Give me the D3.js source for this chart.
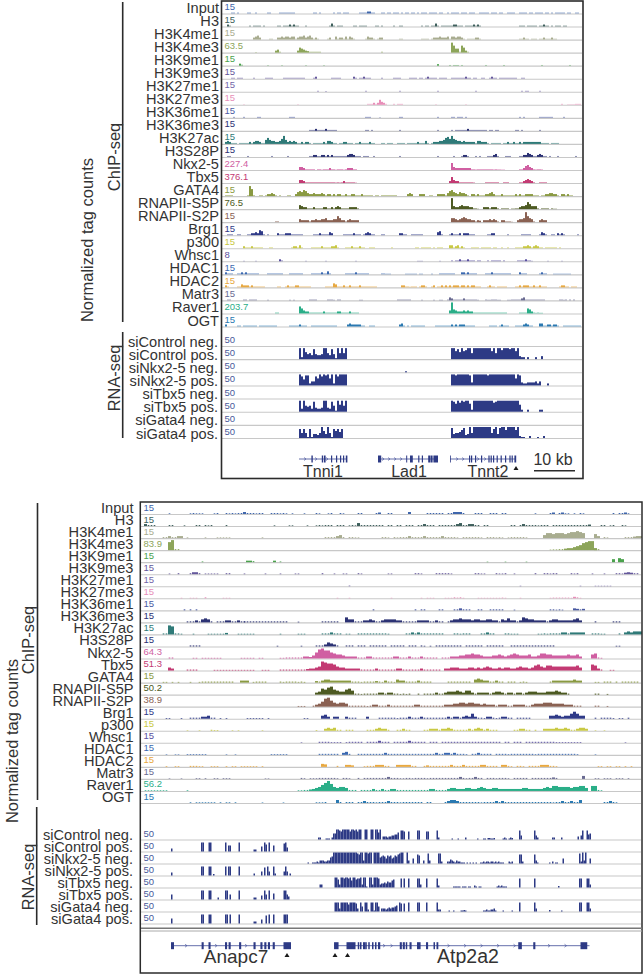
<!DOCTYPE html>
<html><head><meta charset="utf-8">
<script src="https://cdn.jsdelivr.net/npm/d3@7"></script>
<style>html,body{margin:0;padding:0;background:#fff}svg{display:block}text{font-family:"Liberation Sans",Arial,sans-serif}</style>
</head><body><svg id="c" width="643" height="975"></svg>
<script>
// ---------- categories ----------
const chipNames = ["Input","H3","H3K4me1","H3K4me3","H3K9me1","H3K9me3","H3K27me1","H3K27me3","H3K36me1","H3K36me3","H3K27ac","H3S28P","Nkx2-5","Tbx5","GATA4","RNAPII-S5P","RNAPII-S2P","Brg1","p300","Whsc1","HDAC1","HDAC2","Matr3","Raver1","OGT"];
const rnaNames = ["siControl neg.","siControl pos.","siNkx2-5 neg.","siNkx2-5 pos.","siTbx5 neg.","siTbx5 pos.","siGata4 neg.","siGata4 pos."];
const chipColors = ["#3f66ac","#3e5f5c","#a9ad90","#8da55a","#4aa24c","#65589c","#7466a8","#e88fb9","#4a5aa2","#2c3274","#2f7a78","#2c3274","#d05fa2","#c33a73","#8a9a42","#4d5a22","#8a6152","#2f3a88","#c9c944","#5a50a0","#3b69b1","#e8a942","#6a6b92","#2aae88","#2a79b1"];
const rnaColor = "#2d3a85";
const topScaleLabels = ["15","15","15","63.5","15","15","15","15","15","15","15","15","227.4","376.1","15","76.5","15","15","15","8","15","15","15","203.7","15"];
const botScaleLabels = ["15","15","15","83.9","15","15","15","15","15","15","15","15","64.3","51.3","15","50.2","38.9","15","15","15","15","15","15","56.2","15"];
const rnaScaleLabel = "50";

// ---------- top locus: ChIP signal, runs of [first bin, height, height, ...] ----------
const tInput=[[18,1,1,0,1],[26,1,1,0,0,1],[36,1,1],[42,1,1,1,1,1,1,1,1],[59,1,1,0,1],[69,1,0,1,1,0,1,1,1],[82,1,1,1,1,2,2,1,1],[93,1,1,0,1,1,0,1,1,1,0,1,0,1,1,0,1,1,0,1,0,1,1,1,0,1,1,1,1,0,1,1,0,0,1,0,1,1,1,1,0,1,1,1,0,1,1,1,0,0,1,1,1,1,1,0,1,1,1,0,1,1,0,0,1,1,1,1,0,0,1,1,1,1,0,1,1,0,1,1,1,1,0,1,1,0,1,0,1,1,1,1,1,0,1,1,0,0,1,1]];
const tH3=[[16,2,1],[27,1,0,1,1,1,1,0,1],[41,1,1,0,1,1,1,2,1,2,1,1],[55,1],[67,1,3,1,0,1,1,1],[79,1,1,0,1,1,1,1],[90,1,1,0,1],[99,1],[102,1,1],[113,1,0,1,1,0,1,1,3,1,0,1,1,1,1,1,1,2,2,1,1,1,0,1,1,1,1,2,1,2,1],[162,1,1,1,0,1,1,1,1,1,0,1,1,2,1,1,0,1,0,1,1,1,0,1,1]];
const tK4me1=[[29,2,3,4,2],[37,1,1],[41,2,2,3,2,3,3,2,3,3,1,2,3,3,4,2,3,4,2,1,2,1],[66,1,2],[70,3,1,2,2,1,3,1,3,2,1],[85,1,3,2,2,1,0,1,2,2],[102,1,1],[113,1,1,1,1,0,1,2,2,2,3,2,2,2,3,1,3,3,2,3,3,2,1,0,1,1,1,1,2,2,1],[162,1,1,2,1,1,0,1,1,1,0,1,1,2,1,1,1,2,1,1]];
const tK4me3=[[30,.5],[40,2,3,1],[51,2,5,4,3,2,1.5,1,1,1,1,1,1],[93,1],[128,10,7,4,4],[132,1,7,5,2,1]];
const tK9me1=[[22,2,1],[36,.5],[43,.5],[55,.5],[64,.5],[121,1.5],[127,.7,0,.7,.7,.7,0,.7],[145,.7],[154,.7],[173,.7],[187,.7]];
const tK9me3=[[18,1,1,0,1,1,1],[29,1],[35,1,1,1,1],[44,1,1,1,1,1,1,1,1,1,1,1],[59,1,2],[68,1,1,1,1,1],[79,2,1,0,1,1,2,1,1,1],[93,1],[99,1,1,1,1],[107,1,1,1,1,0,1,1,0,1,2,1,1,1,1,0,1,1,1,1,0,0,1,1,1,1,1,1,1,2,1,1,0,1,1,0,0,1,1,0,0,1,2,1,1,0,1,1,1,1,1,1,1,1,1,0,0,1,1]];
const tK27me1=[[61,1],[65,.7],[85,1],[102,1],[121,1],[140,1],[163,1,0,1,1],[172,1]];
const tK27me3=[[24,.5],[51,.5],[86,1,1,1,2,1,2,5,3],[94,2,1],[99,1,0,1,1,1],[120,.5],[135,.5],[183,1],[186,.5,.5,.5,.5,1,1,1]];
const tK36me1=[[19,1],[24,1],[31,1,1],[47,1,1,1],[85,1,1,1],[92,.5],[102,1,1],[121,1],[128,1,1,0,1,1,1,0,1],[162,1,0,1],[172,1,1,1,1,1,1,1],[184,1]];
const tK36me3=[[57,1,1,1,2,1,1,1,1,2,1,1,1,1,1],[85,1,1,0,1],[102,1],[121,1],[128,1,0,1,1,1,1,1,1,2,1,1,1,1,1,1,1,1,1,0,1,1,0,1,1],[160,1,1,0,1],[172,1]];
const tK27ac=[[15,2,3,2,1,1,1,0,1,1,1,1,1,2,1,2,3,3,2,1,1,4,6,4,3,3,2,2,3,5,8,4,2,3,2,3,2,1,1,2,1,2,2,1,0,1,1,1,1,1,2,1,3,3,2,1,1,0,1,1,2,2,1,1,1,0,1,1,2,1,1,1,1,2,1,1],[93,1,1,0,1,1,1,0,0,1,1,1,1,0,1,1,1,1,1,2,1,1,1,3,1,0,1,2,2,2,3,3,4,6,7,5,8,5,4,3,3,2,3,2,2,2,2,2,1,3,3,2,2,2,1,0,1,1,1,1,1,0,1,1,2,1,1,2,1,1,2,1,2,2,2,2,2,2,2,2,2,1,1,1,1,0,1,1,1,1]];
const tS28P=[[16,1,1],[26,1],[38,1],[46,1],[57,1,1,2,2,1,1,2,2,1,2,1,2,1,1,1,1,1,1,1,2,3,3,2,1,1,1,0,1,1,1,0,0,1],[102,1],[121,1],[129,1],[133,1,2,2,1],[140,1,0,1],[146,1,1,1,2,3,1],[155,1,1,1],[162,1,1,2,2,4,3,2,1,1,2,3,2,1,1,0,1],[181,1],[190,1]];
const tNkx=[[52,3,3,2,1,1,1,1,1,0,1,1,.5,1,1,1,2,1,1,.5,1,1,1,.5,1,2,2,2,1,1],[128,7,3,2,2,2,2,2,2,2,2,1,1],[140,.7,1,1,1,1,1,1,1,1,.7,1,.7,.7,.5,.5],[162,1,1,2,4,5,3,2,1,.7,1,1,.7]];
const tTbx=[[52,3,3,2,1,1,1,1,1,1,1,1,1,1,1,1,1,1,1,.7,1,.7,1,2,1,1,1,1,1,.5],[127,2,6,3,2,2,1,1,1,1,1,1,1,.7],[145,1,1,1,1,1,1,1],[154,1,1,1],[162,1,1,2,3,4,3,2,1],[172,1,1,1,1]];
const tGATA=[[15,1,1,1,1],[26,1,10,7,1],[32,1,1],[35,1,2,2,3,2,1],[42,1],[46,1,1],[50,2,4,5,4,6,5,3,2,2,3,2,2,2,3,2,1,2,2,1,2,1,2,2,1,1,2,1,1,2,2,1,1,1,2,1,1,1,1,1,0,1,1],[93,1,1,1,1,1,1,1,1,0,0,0,0,0,2,3,2],[112,2,2,2],[117,1,1],[121,2,2,2,2,1,3,5,6,4,3,2,4,3,3,2,1,0,2,2,1,2,1,1,1,2,2,3,4,2,1,1,1,2,1,1,1,1,1,1,2,1,2,1,1,2,2,2,2,1,1,1,0,1,1,2,2,3,3,2,2,1,0,2,2,1,2,1,1]];
const tS5P=[[52,4,3,2,2,1,1,1,2,1,1,1,1,2,2,1,1,2,1,2,3,2,1,1,1,1,2,2,2,2,1],[128,11,3,2,2,3,4,3,3,3,2,2,1,1,.5],[144,2,2,2,1,2,2,2,1],[153,1,1,1,1],[158,.7,.7,1,1,2,3,3,4,7,5,3,3,3,1],[173,1,1,1,1,0,1,.5,.5]];
const tS2P=[[40,1,1],[52,3,2,2,2,2,1,2,2,3,2,2,3,3,4,2,2,2,3,3,6,4,2,2,1,2,3,2,2,2,2],[128,4,4,3,2,3,4,5,4,3,3,2,2,1,2,1.5],[144,2,2,2,3,2,3,2,1],[153,2,2,1,1,1,.5],[161,2,3,3,4,10,6,4,3,1],[172,2,3,2,2]];
const tBrg=[[16,1,1,1],[21,1,1],[26,1,1,2,2,3,2,5,4,1],[36,1],[41,2,1,1,1,2,2,2,1,1,1,1,1,1],[59,1,1,1,2,1,1,1,1,3,2],[74,1,1,1,1,1,2,1,1,1,0,1,2,3,2,1,1],[93,1,1],[102,2,2,1,1],[108,1,1,1,1,1,1],[121,3,4,1],[127,1,2,1,1,1,2],[134,2,2,2,1,1,1],[146,1,1,2,2],[156,1],[163,1,1,1,1,1],[172,1,3,2,1],[178,1,1,0,2,1,2,1],[191,1]];
const tP300=[[24,2,1,1,1,2,1,1,1,1,1],[37,1,1],[48,1,2,2,1,3,1],[58,1,1,1,1,1,2,1,1,1,1,2,2,3,1],[75,1,1,1,2,1,1,1,2,1,1,0,0,1,1,1],[98,1],[110,1,1,0,1,1,1,1,1,0,1,0,1,1,1],[127,3,3,1,2,3,1,2,1],[138,1,1,1,1,0,1,1,1,1,1,0,1,1],[153,1,0,0,1],[160,1,1,1,1,2,2,3,2,1,2,3,2,1,1,0,1,1,1,1,1,1,0,1]];
const tWhsc=[[24,.5],[30,.5],[42,2,1],[55,.5],[65,.5],[80,.5],[111,.5,.5,.5],[122,.5],[128,1,0,1,1,2,1,1,1,2,1,1,1,0,1,1],[146,1,0,1,1,1,1,1,0,1],[161,1,1,1,1,2,1,1,.5],[176,.5],[183,.5]];
const tHDAC1=[[15,2,1,1,1],[21,1,1,2,1,2,1,1,1,1,1,1],[36,1,1,1,1,1,1,1,1],[47,1,1,1,1,1,1,1],[58,1,1,1,1,1,2,1,1,3,1],[75,1,1,1,1,1,2,1,1,1,1,1,1],[93,1,1,.7,.7,.7],[105,.7,.7,.7,.7,.7,.7,0,.7,.7],[118,.7],[122,1,1,1,1,1,1,1,1],[133,2,2,1,2,1,1,1,1],[145,1,1,1,2,1,1,1,1,1,1,1,1,1],[162,2,1,1,1],[172,1,2,1,1],[179,.7,.7,.7,.7,.7,.7,.7,.7,.7]];
const tHDAC2=[[15,2,1],[21,1,1,3,2,2,2,1,2,1,1,1,1,1,1],[41,1,1],[45,1,2,1,1,1,2,2,1,1,1,1,1,1],[65,1,1,1,1,4,3,1,1,1,2,1,1,2,1,1,1,1,2,1,1,1,1,1,1,1,1],[103,2,2,1,1,.7,1,1,1],[112,1,2,2,1],[118,1,2],[121,1,1,2,1,2,1,2,1,2,2,2,1,2,2,1,2,1,2,2,1,1,1],[146,1,2,1,1],[151,1,1,1,1,1],[160,1,1,2,1,2,2,2,1,1,2,1,1,2,1,1,1],[182,1,2,2,1,1,0,1,1,1]];
const tMatr=[[16,1,1],[24,1,1,0,1,1,1,1],[36,.7],[47,.7,0,.7],[57,1,1,1,1],[66,1,1,1,.7,0,1,1],[82,.7,.7],[101,1,1,1,1,1,1,1],[113,.7],[119,.7],[122,.7,.7],[126,1,3,2,1,1,1,1],[133,1,2,1,1,1,1,1,1,.7],[145,1,.7,.7,1,1,1,.7,.7],[156,.7,.7,1,1,1,1,1,2,3,1,1,1,1,1,1,1,1,1,1],[182,1,1,.7,1,0,1,0,1]];
const tRaver=[[40,1,1],[52,7,5,3,2,2,1,1,1,1,1,1,1,2,1,1,1,1,1,1,2,2,1,1,1,1,2,1,1,1,1],[127,3,11,4,3,2,2,2,3,2,3,2,2,1,1,1,1,1,1,1,1,1,1,1,1,1,1],[153,1,1,1],[162,1,1,1,1,5,4,2,1,.7,1,.7,.7]];
const tOGT=[[15,2],[21,1,1,0,1,1,1,1,1,1,1,0,1,1,1,1,1,1,1,1,1],[47,1,1,1,1,1,2,1,1,1],[58,1,1,1,1,1,1,1,1,1,1,1,1,1],[76,2,3,2,2,2,2,2,1,1],[87,1,1,1],[102,2,3,1],[106,1,0,1,1,1,1,1,1,1],[120,1,1,1,1,1,1,1,1,2,1,2,1,2,2,2,1,1,1,1,1],[147,1,1,1,1,0,1,2,1,1,1],[160,1,1,1,1,2,3,2,1,1],[172,3,3,1,1,2,2,1,2,2,1],[184,1,1,1,1,1,1,1,1,1]];
const topChip=[tInput,tH3,tK4me1,tK4me3,tK9me1,tK9me3,tK27me1,tK27me3,tK36me1,tK36me3,tK27ac,tS28P,tNkx,tTbx,tGATA,tS5P,tS2P,tBrg,tP300,tWhsc,tHDAC1,tHDAC2,tMatr,tRaver,tOGT];

// ---------- top locus: RNA signal ----------
const trCtrlPos=[[52,11,2,11,7,5,6,4,10,5,4,4,5,11,11,6,4,10,5,1,11,6,11,6,11],[128,11,11,8,10,7,11,8,9,11,11,6],[139,11,11,11,11,11,11,11,11,11,8,11,6,11,11,9,11,11,11,10,11,11,8,11],[162,3,2,2],[166,2],[170,2],[173,3]];
const trNkxNeg=[[105,1]];
const trNkxPos=[[52,11,9,6,10,10,2,4,4,9,7,11,9,11,10,11,7,11,2,11,9,11,11,11,11],[128,11,11,10,11,11,11,11,11,11,10,3],[139,11,11,11,11,11,11,11,10,11,11,11,11,11,11,11,11,11,11,11,11,11,7,11,10],[163,3,2,2,3,3,3,3,4,2,4],[176,2]];
const trTbxPos=[[52,11,3,11,6,5,6,3,10,4,3,3,4,11,11,4,3,10,6,1,11,7,11,6,11],[128,11,10,8,11,9,11,10,11,11,8,2],[139,11,11,11,11,11,11,11,11,11,11,9,10,11,11,11,11,11,11,11,11,11,11,11,7],[163,2],[166,2],[172,2,2]];
const trGataPos=[[52,9,5,9,5,1,9,1,4,4,3,5,11,7,4,11,5,1,9,7,9,6,9],[128,10,4,5,5,6,8,10,3,4,11,5],[139,11,11,11,11,11,11,11,11,11,5,9,11,4,10,11,11,8,11,11,11,11,8,11],[162,2,1,1],[167,2],[171,1],[174,2]];
const topRna=[[],trCtrlPos,trNkxNeg,trNkxPos,[],trTbxPos,[],trGataPos];

// ---------- bottom locus: ChIP signal ----------
const bInput=[[9,.7],[16,.7,1,.7,.7,.7],[24,.7,1],[28,1,.7,1,.7,1,1,2,1,1,1,.7,1,1],[43,1,1,1,.7,1,.7],[50,.7],[54,.7],[58,1,.7],[62,.7,1],[66,1,.7],[72,1,1],[78,1,1.5],[82,1,1],[89,2],[95,1,1,1,1,1,1,0,1,1,2,2,2,1],[111,1,1,1],[116,1,1,1,0,1,1],[131,.7],[136,1,1.5,0,1,1.5,.7,.7],[144,.7,0,1,.7],[157,1,0,1,1,1.5,.7]];
const bH3=[[1,2,1,1,1],[9,1,1],[14,.7],[18,1,1,0,1,.7,1],[28,1],[44,.7],[49,.7,.7],[55,.7,0,0,.7],[59,1,.7,1,1,1,0,1,1,1],[69,.7,1,.7],[72,3,1,1,1,1,1,1,1],[80,1,0,1,1,0,1,1,0,1,1,1,0,1,1,2,1,1,1,0,1,1,1,1,1,1,2,3,1,1,2,2,1,1,0,1,1],[123,1,1,0,1,2,1,1,1,1],[132,.7,1,1,1,0,1,1,1,1,1,1,1,1,1,1,1,1,1.5],[153,1,1,0,.7,1],[160,1,.7]];
const bK4me1=[[7,1,1,2,1],[11,1,2,2],[15,.7],[21,.7],[25,.7,.7,.7,.7,.7],[40,.7],[61,1,1,1,1,2,3,1],[69,1,1,.7,.7],[80,1,1,.7,0,1,.7,1,1,1,2,1,1,1,1,2,1,1,1,1,1,2,1,1,1,1,.7,0,1,1,1,1,1,1,.7,0,1,1,1,.7,1,.7,0,.7,1,1,1,1,1,.7],[134,3,5,5,4,5,5,5,4,5,6,6,7,6,5],[151,4,2],[154,1,.7],[161,1,1,1,1.5,2,2]];
const bK4me3=[[9,8,10],[11,1,1],[136,.5,.7,.7,1,1,1.5,2,2,3,4,5,7,8,9,9,2],[151,1.5,1]];
const bK9me1=[[20,.7],[35,1.5,1.5,1],[44,1.5,0,.7],[115,.5],[121,.5],[128,.5],[157,3],[159,4,3]];
const bK9me3=[[9,.7],[12,1],[16,1,2,2,1],[21,.7,.7,.7,.7,.7],[28,1,1],[34,.7],[41,.7],[46,.7],[51,.7,.7],[60,1],[64,.7],[67,.7,.7],[72,1,.7],[82,.7,.7],[91,1,1,.7],[98,1,1,1,1,1,.7],[111,1,1,.7,.7],[118,1,.7,.7,1],[124,.7],[131,1],[134,1,1,.7,1,1],[143,1,.7,1],[150,.7],[154,.7],[158,1,1,.7,1.5,2,1.5,1,1]];
const bK27me1=[[69,.7],[126,.5],[146,.5],[151,.5,.5,.5,.5,.5,.5]];
const bK27me3=[[13,.5],[16,.5,.5,.5],[21,1],[27,.5,.5,.5],[65,.5],[69,.5],[83,.5],[93,.5,0,.5,.5,.5],[101,.5,.5,.5,1,.7,1,.5],[112,.5,.5,.5,.5,.5,.5,.5,.5,.7,.5],[126,.5],[136,.5,.7,.7,.7,.7,.7,.7,.5,1.5,1,.5]];
const bK36me1=[[14,1],[16,1],[18,1],[77,1],[91,1,0,1,1],[99,1,1],[104,1,1,2,1,1,1],[112,1,1],[116,1,1,1,1,1],[124,.7],[136,1,1,.7,1,.7],[144,2,1.5,1,1.5]];
const bK36me3=[[15,1,1,1,2,1,3,4,3,1],[25,1,1,1,2,2,1,1,2,1,1],[34,1,1,1,1,1,1,1,1,1,1,1,1,1,1,1],[52,.7],[60,1,1,1,1,1,1],[68,5,3,3,1],[72,1,1,2,2,3,2,1,1],[80,2,3,3,3,3,2,2,1,1,1,1,1,2,2,2,2,1,1,2,1,1,0,1,2,3,3,4,3,3,3,2,3,3,2,2,3,3,2,2,1,3,2,4,2,2,1,2,5,4,3,3,2,2,2,2,1,2,3,3,2,2,2,2,2,3,4,2],[151,1],[157,1,1,1]];
const bK27ac=[[7,1,1,9,8,1],[12,1,.7],[17,.7],[22,.7,.7,.7,.7,.7,.7,1.5],[32,.7,.7,.7,.7,.7,.7],[46,.7],[52,.7,.7,.7],[60,1,1,1,2,1,1,1],[68,.7,.7],[72,1,1,1,1,1,1,1,1],[80,1,1,.7],[88,1,1,2,1,2,1,1,1,1,1,1,1,1],[104,1,1,.7,1,1,1],[113,1,1,2,1,1],[121,1,1,.7,.7,.7],[132,.7,.7,1,.7],[136,1,1,1,1,2,2,1,2,2,2,2,2],[150,1,1,1,.7,.7],[159,1],[161,2,3,2,3,3,3]];
const bS28P=[[16,1,1,1,1],[45,.7],[53,.7],[58,1,1,1,2,4,3,2,1],[68,1,1,1],[72,1,1,1,0,1,1,1,1],[80,1,1,0,1,1,1,1,1,0,1,1,1,0,1,.7,0,.7,0,1,1,1,1,1,1,1,1,1,0,1,1,1,1,1,1,0,1,1,1,1,1,1,0,0,1,1,1,1,1,1,1,1,1,1,1,1,1,1,1],[158,.7,.7]];
const bNkx=[[9,1,1],[17,.7,.7,0,.7,.7,.7,.7,.7,.7,.7],[33,.7,.7,.7,.7,.7,0,.7,.7],[46,.7,.7,1,1,1,1,1,1,2,2,1.5,3,6,9,10,8,8,6,5,4,4,3,2,2,2,2,1,1,1,2,2,1,1,1,1,1,1,1,2,2,1,1,1,2,1,1,1,2,1,1,1,1,1],[100,1,1,1,2,2,2,3,3,4,4,5,4,4,3,2,2,2,3,3,4,3,2,3,4,5,4,3,3,3,4,2,2,3,5,5,4,4,3,3,3,3,3,4,3,3,4,2],[150,4,5,1],[153,.7]];
const bTbx=[[9,3,2],[15,1,1,1,1],[24,.7,.7,.7,.7,.7,.7,.7,.7,.7,.7,.7,.7,.7,.7],[40,.7,.7,.7],[46,1,1,1,1,1,1,1,1,1,1.5,2,2,3,4,9,8,7,7,6,4,3,3,2,2,2,2,2,1,1,1,1,1,2,1,1,1,1,1,1,2,2,1,1,1,1,1,1,2,1,1,1,1,1,1],[101,2,2,3,3,3,2,2,2,3,3,2,3,2,3,4,3,2,2,3,2,3,3,2,2,3,4,3,3,2,3,5,6,4,3,5,5,4,4,4,4,4,4,4,4,5,3],[150,6,5,2],[153,1],[156,.7,.7]];
const bGATA=[[7,.7,.7,0,.7],[12,.7],[16,.7],[19,.7,1,1,1,1,1,1,1,1,1,1,1],[33,2,2,2],[37,.7,1,1,1,1],[46,1,.7,1,1,1,1,.7,1,.7],[58,1.5,1,2,3,3,2,2,2,2,2,2,2,1,1,1,.7,1,1,1,1,1.5,1,.7],[81,2,1,1,.7,3,2,2,1,1,1,1,2,1,1,1,1],[102,1,1,1,1,1,1,1,1,0,3,4,3,2,2,1,1,2,1,1,0,1,1,1,0,.7,1,.7],[136,1,2,2,2,2,2,2,2,3,2,2],[151,.7,.7,0,1,1,1,0,1,0,1,1,1,1,1,1]];
const bS5P=[[58,2,3,6,5,7,8,5,4,3,3,5,6,4,1],[72,1,.7,1,1,1,1,1,2,2,1,2,2,1,1,.7,1,.7,1],[92,1,0,1,1,1,1,2,1,1,2,3,3,3,4,3,2,4,4,2,1,2,2,2,2,1,2,3,3,2,1,2,2,1,2,2,1,2,3,3,3,2,2,2,3,3,3,4,3,2,2,1],[151,1,1],[155,.7]];
const bS2P=[[52,.7,.7,.7],[57,1,2,3,5,8,9,6,4,3,4,4,3,1,1,1],[72,1,1,1,.7,1,2,2,1,1,1,2,1,1,1,1,1,1,1,1,2,2,1,1,1,1,1,1,1,1,2],[102,2,2,3,3,4,4,3,4,4,3,3,2,3,2,2,2,1,2,2,2,1,1,2,2,2,2,1,1,2,3,3,3,4,4,4,3,3,3,3,2,2,2,1,1,1],[151,1,1],[155,.7]];
const bBrg=[[8,.7,.7],[13,.7],[16,1,1,1,1,2,2,3,1,1,0,.7,0,.7],[35,.7,.7,.7,.7,.7,.7,0,.7],[54,.7,.7],[60,3,4,2],[64,2,2],[68,2,1,1,1],[75,2],[79,1,1,1,1,1,1,.7,1,1,1,2,1,1,1,2,1,1,1,1,1,1,1,1,2,1,2,2,1,2,3,2,5,2,1,1,.7,2,2,1,.7,1,2,2,1,1,0,1,1,1,1,1],[136,3,3,4,3,2,3,3,5,7,5,3,3],[151,1,0,1,1,1,1,.7,0,.7,.7,0,1]];
const bP300=[[15,.5],[19,.5],[23,1,.7,.7],[30,.5,0,.5],[40,.5],[58,.7],[61,2,3,2,3,1,1],[68,1,1,1],[75,1,1,1,2,3,2,2,1],[85,1,1,2,1,1],[94,1,1,2,2,2,1,2,2,3,2,1,1,1,1,1,2,1,2,3,2,1,2,1,1,1],[124,1,1,2,2,1,1],[131,1],[134,2,2,2,2,3,2,2,3,2,1,1,2,3,3,2],[151,.5],[154,.5]];
const bWhsc=[[53,.5],[59,1,1,1,1,.7,.7,.7,.7,0,.7,1,1,1,1,1,0,1,1,1,1,2,1,1,1,0,1,1,1,1,1,2,1,1,1,1,1,0,1,1,1,0,1,1,1,1,1,1,1,1,1,1,1,1,1,1,1,1,1,1,1,1,0,1,1,0,1,1,1,0,1,1,1,1,1,1,1,1,1,1,.7,.7,.7,.7,.7,.7,.7,.7,.7],[161,.5]];
const bHDAC1=[[8,.5],[11,.5,.5],[15,.7,.7,.7,.7,.7,.7,.7],[28,.5],[31,.5],[43,.7,.7,.7,.7,.7,.7],[59,1,1,1,1,1,1,1,0,2,3,1],[72,1,1,1,1,1,1,1,1,1,2,1,1,1,1,1,1,1,1,1,1,1,1,1,1,1,1,2,1,1,2,2,1,2,1,1,1,.7,0,1,1,2,1,1,1,1,0,1,1,1,1,.7,1,1,1,1,1,1,1,1,.7,1,1,1,1,1,1,1,1,1,1,1,1,1,.7],[151,.5]];
const bHDAC2=[[8,.7],[11,.7,.7],[16,1,1,1,.7,.7],[23,.7,.7,.7],[28,.7,0,.7,.7,0,.7,.7,.7,.7,.7,.7,0,.7],[60,3,2.5],[65,1],[68,2,2,1.5],[74,.7,1,1,1,2,2,2,1,1],[85,2,2,2,2,2,1,1],[94,1,1.5,1,1,1,1,1,1,1,2,1,1,1,2,1,1,1,1,1,2,2,1,1,1,1,0,2,2,1,.7,0,1,1,.7,0,1,1,1,1,2,2,2,1,1,.7],[152,.7,.7,0,.7,.7,0,.7,.7,0,.7],[163,.7]];
const bMatr=[[9,.5],[13,.5],[18,.7,.7,0,.7],[24,.7,.7,0,.7,.7,.7],[41,.5,.5],[53,1,.7,0,.7,.7,.7,1,1,1,1,1,1,.7,0,1,1,.7],[72,1,0,1,1,1,1,1,1,1,1,2,1,1,1,.7,.7,1,1,.7,1,1,1,1,.7,1,1,1,1,1,1,1,1,1,1,2,1,.7,1,1,2,1,1,0,1,1,1,.7,1,1,1,.7,0,1,1,1,1,1,0,1,1,1,1,1,1,1,1.5,1],[147,3],[151,.7,.7,0,.7,.7,.7,0,.7,.7,.7,0,.7]];
const bRaver=[[1,.7,.7,.7,.7,.7,.7,.7,.7],[15,.7],[52,.7,.7,1,1,1.5,2,3,4,6,8,10,7,4,3,4,4,3,1,1,1],[73,1,1,1,1,2,1,1,2,1,1,2,2,1,1,1,1,1,1,1,1,1,1,1,2,2,1,1,1,1],[102,2,3,3,2,2,2,3,3,2,2,3,4,3,2,2,3,3,2,2,2,2,2,2,2,2,3,3,2,2,2,2,2,3,4,3,5,5,4,4,4,4,3,4,4,5,5,3],[150,5,5,1],[153,.7]];
const bOGT=[[16,.7,0,.7,.7,.7,.7,.7,.7,.7,0,.7,0,.7,.7,0,.7],[40,.5],[47,.5],[58,.7,.7,.7,1],[65,3,1],[68,1,1,1],[72,1,1,2,1,1,1,.7,1,1,1,2,1,1,1,.7,1,1,1,1,1,1,1,0,1,1],[101,1,2,3,3,2,1,1,1,1,1,1,1,.7,1,1,1,1,2,1,2,1,1,1,1,1,1,1,1,1,1,1,1,1,1,1,1,.7,1,1,2,1,1,2,1,1,3],[154,1,1,2,1,.7]];
const botChip=[bInput,bH3,bK4me1,bK4me3,bK9me1,bK9me3,bK27me1,bK27me3,bK36me1,bK36me3,bK27ac,bS28P,bNkx,bTbx,bGATA,bS5P,bS2P,bBrg,bP300,bWhsc,bHDAC1,bHDAC2,bMatr,bRaver,bOGT];

// ---------- bottom locus: RNA signal ----------
const brCtrlNeg=[[118,2,2],[123,1,1,1],[127,2,6,6],[130,10,10,9,8,10,10,10,10,10,8,10,10,9],[143,10,8,10,10],[149,10,10],[153,10,10],[156,10,10,7,10],[161,3,3,3,2,3,3,4,4,5,5,7],[173,9,9],[175,8],[178,8],[184,9,9],[190,8,8],[197,9,2],[207,1],[211,1],[216,2],[224,1],[228,1,1,0,1.5,1.5,1,1,1.5],[241,1,2,1,0,1,2,1.5],[252,9,4],[262,9,4,2],[274,2,2],[280,2],[291,3],[293,4,9],[297,9,5,6]];
const brCtrlPos=[[20,3],[40,9,9],[45,9,9],[56,9,0,6,6],[65,9],[75,2,2],[80,5],[82,9,7],[85,9],[88,6],[95,8,9,4]];
const brNkxNeg=[[111,1],[114,1,1,1,2,1],[119,3,3,3,2,2,3,3,6,7],[128,11,11,11,11,11,11,11,11,11,11,11,11,11,11,11,11,10],[145,9,11,11,3],[149,11,11,10,11,11],[155,11,11,11,11,6,7,8,7,5,8,7,8,5,6,8,7,9,10],[173,11,11],[177,11,3],[181,5],[184,9,8],[188,3],[191,10,3],[198,10,10,2],[204,2,2,4,3,2,1,3,2,2,1,1,1],[217,1,0,1,0,1,0,1],[226,1,1,2,1,2,2,1,2,2,1,2,1,2,1,1,1],[245,2,1,2],[252,9,9,2],[262,9,3,1],[272,1,0,2,0,1,1],[281,5],[292,10,2,11,3,11],[299,5]];
const brNkxPos=[[20,3],[40,9,9],[45,9,9],[48,1.5],[56,9,0,9,9],[65,9],[75,2],[80,4],[82,8],[84,9,4],[88,9,2],[95,4,9,4],[99,2]];
const brTbxNeg=[[119,3,3],[129,10,10,8,3,10,10,9,10,10,9,10,7,10,10,8,9],[145,9,10,3,10,10,1],[152,10,10,3,10,10,10,9,3,4,4,5,4,6,5,5,7,8],[173,9],[175,9],[178,9],[184,9,9,3],[190,9],[197,9,2],[208,1,1,1,1,1,0,1,1,1,0,1,1],[222,2,1,0,1,1],[237,1,2,1,2,1,1,1],[252,9],[262,9],[278,1.5],[292,9,9],[297,9,9,3]];
const brTbxPos=[[20,5],[40,9,9],[45,9,9],[51,2],[56,9,9,0,5],[65,9],[75,2,2],[80,4],[82,9,5],[85,9],[88,6],[95,9,9,5,3]];
const brGataNeg=[[129,9,9,9,3,9,9,9,9,9,7,9,9,9,9,8,3],[146,9,5],[149,9,9,2],[153,9,9,1,9,9,5],[160,3,3,3,2,3,4,3,4,4,5,6],[172,9,8],[175,8],[178,9],[184,9,9],[190,9],[197,9,2,2],[205,1],[208,1],[213,1,1,1.5,1],[228,1,1,2,1,1,2,2,3,1],[241,1],[247,1],[252,9],[262,9,3],[272,1.5],[280,1],[292,9,9],[297,9,9,3]];
const brGataPos=[[20,5],[40,9,9],[45,9,9],[56,9,9,0,9],[65,9],[75,2,2],[80,4],[83,8],[85,9],[88,9],[95,9,9,9]];
const botRna=[brCtrlNeg,brCtrlPos,brNkxNeg,brNkxPos,brTbxNeg,brTbxPos,brGataNeg,brGataPos];

// ---------- gene models ----------
const topGeneNames=["Tnni1","Lad1","Tnnt2"];
const topGeneSpans=[[52,76],[91.5,121.5],[127.5,160.5]];
const topGeneExons=[[[58.2,.7],[63.4,.7],[64.5,.8],[68,.6],[70.5,.6],[72.5,.6],[74,.6],[75.4,.8]],[[91.5,1.6],[105.6,.5],[107.5,1.4],[111.6,.6],[113.4,.6],[116.6,1.2],[118,.8],[119.2,2.3]],[[127.5,.4],[137,.6],[138,.6],[140,.6],[143,.6],[146.7,.6],[147.8,.6],[149,.6],[150.8,.6],[152.8,.6],[155,.6],[157.2,.6],[158.3,.6],[159.7,.9]]];
const topGeneArrows=[[[55],[60.5],[66]],[[94],[97],[100],[103]],[[131],[134],[141.5],[145]]];
const botGeneNames=["Anapc7","Atp2a2"];
const botGeneSpans=[[20,99],[128.7,299]];
const botGeneExons=[[[20,2],[40.4,1.4],[45,1.4],[56,1.4],[58.4,1.4],[65.4,1.4],[75,1.4],[79.6,1.4],[82.2,1.4],[84.6,1.4],[87.8,1.4],[95,5]],[[128.7,3],[137,6],[144.5,1],[146,1],[148,1.5],[149.5,1],[151.5,1],[154,1],[156,1],[158,1.5],[172.5,1.4],[174.5,1.4],[176.5,1],[179,1.4],[184,2.4],[190,1.4],[195,1],[197,1.2],[251.5,2.4],[261.5,1.4],[293,4.5]]];
const botGeneArrows=[[[30],[50],[70]],[[162],[167],[205],[216],[227],[238],[249],[272],[283]]];

// ---------- layout ----------
const svg=d3.select("#c");
const TOP={l:222,r:582,binL:13.5,binR:193.5,chipY:[13.5,326.5],rnaY:[346,438],geneY:459};
const BOT={l:141,r:641,chipY:[514,803],rnaY:[839.5,923.5],geneY:945.7};
const INK="#2b2b2b", LABEL="#333";
const hScale=d3.scaleLinear().domain([0,10]).range([0,10]);
const expand=runs=>runs.flatMap(r=>r.slice(1).map((v,i)=>({bin:r[0]+i,v}))).filter(d=>d.v>0);

function track(g,runs,x,base,color,dotted){
  const frac=d=>dotted&&d.v<1.5?.55:1;
  g.selectAll(null).data(expand(runs)).join("rect")
   .attr("x",d=>x(d.bin)+(x(d.bin+1)-x(d.bin))*(1-frac(d))/2)
   .attr("width",d=>(x(d.bin+1)-x(d.bin))*frac(d))
   .attr("y",d=>base-hScale(d.v)).attr("height",d=>hScale(d.v)).attr("fill",color);
}
function panel(p,xChip,xRna,chip,rna,scales,labelX,rnaLabelX){
  const yChip=d3.scaleLinear().domain([0,chipNames.length-1]).range(p.chipY);
  const yRna=d3.scaleLinear().domain([0,rnaNames.length-1]).range(p.rnaY);
  const lines=svg.append("g"), marks=svg.append("g").style("filter","blur(.3px)");
  chipNames.forEach((n,i)=>{
    const b=yChip(i);
    lines.append("line").attr("x1",p.l).attr("x2",p.r).attr("y1",b+.5).attr("y2",b+.5).attr("stroke","#c8c8c8").attr("stroke-width",1.1);
    track(marks,chip[i],xChip,b,chipColors[i],true);
    svg.append("text").attr("x",labelX).attr("y",b-1).attr("text-anchor","end").attr("font-size",14.6).attr("fill",LABEL).text(n);
    svg.append("text").attr("x",p.l+2.5).attr("y",b-3.5).attr("font-size",9.5).attr("fill",chipColors[i]).text(scales[i]);
  });
  rnaNames.forEach((n,i)=>{
    const b=yRna(i);
    lines.append("line").attr("x1",p.l).attr("x2",p.r).attr("y1",b+.5).attr("y2",b+.5).attr("stroke","#c8c8c8").attr("stroke-width",1.1);
    track(marks,rna[i],xRna,b,rnaColor,false);
    svg.append("text").attr("x",rnaLabelX).attr("y",b+.5).attr("text-anchor","end").attr("font-size",14.6).attr("fill",LABEL).text(n);
    svg.append("text").attr("x",p.l+2.5).attr("y",b-3).attr("font-size",9.5).attr("fill","#4a5a9a").text(rnaScaleLabel);
  });
}
function gene(p,x,spans,exons,arrows,exonH){
  const g=svg.append("g").style("filter","blur(.25px)");
  spans.forEach((s,i)=>{
    g.append("line").attr("x1",x(s[0])).attr("x2",x(s[1])).attr("y1",p.geneY).attr("y2",p.geneY).attr("stroke","#3c4a96").attr("stroke-width",.8);
    g.selectAll(null).data(exons[i]).join("rect").attr("x",d=>x(d[0])).attr("width",d=>x(d[0]+d[1])-x(d[0]))
     .attr("y",p.geneY-exonH/2).attr("height",exonH).attr("fill","#2d3a85");
    g.selectAll(null).data(arrows[i]).join("path")
     .attr("d",d=>{const c=x(d[0]);return `M${c-1},${p.geneY-1.5}L${c+1},${p.geneY}L${c-1},${p.geneY+1.5}`;})
     .attr("fill","none").attr("stroke","#3c4a96").attr("stroke-width",.6);
  });
}
const rot=(x,y,t,s)=>svg.append("text").attr("transform",`translate(${x},${y}) rotate(-90)`).attr("text-anchor","middle").attr("font-size",s).attr("fill",LABEL).text(t);
const tri=(x,y)=>svg.append("path").attr("d",`M${x-2.5},${y+2}L${x},${y-2}L${x+2.5},${y+2}Z`).attr("fill","#1a1a1a");
const txt=(x,y,t,s)=>svg.append("text").attr("x",x).attr("y",y).attr("text-anchor","middle").attr("font-size",s).attr("fill",LABEL).text(t);
const vline=(x,y1,y2)=>svg.append("line").attr("x1",x).attr("x2",x).attr("y1",y1).attr("y2",y2).attr("stroke",INK).attr("stroke-width",1.6);

// top panel
const xTop=d3.scaleLinear().domain([TOP.binL,TOP.binR]).range([TOP.l,TOP.r]);
panel(TOP,xTop,xTop,topChip,topRna,topScaleLabels,219,218);
gene(TOP,xTop,topGeneSpans,topGeneExons,topGeneArrows,7);
svg.append("rect").attr("x",221.5).attr("y",1).attr("width",361.5).attr("height",477.5).attr("fill","none").attr("stroke",INK).attr("stroke-width",1.6);
txt(323,477,topGeneNames[0],16); txt(409,477,topGeneNames[1],16); txt(488,477,topGeneNames[2],16);
tri(516,468);
txt(553,465,"10 kb",16);
svg.append("line").attr("x1",xTop(169.5)).attr("x2",xTop(190)).attr("y1",470.7).attr("y2",470.7).attr("stroke",INK).attr("stroke-width",1.4);
vline(122.7,2,322); vline(122.7,332,438);
rot(120,157,"ChIP-seq",16.4); rot(119.5,378,"RNA-seq",16.4); rot(93,240,"Normalized tag counts",16.5);

// bottom panel
const xBotChip=d3.scaleLinear().domain([0,166.67]).range([BOT.l,BOT.r]);
const xBotRna=d3.scaleLinear().domain([0,333.33]).range([BOT.l,BOT.r]);
panel(BOT,xBotChip,xBotRna,botChip,botRna,botScaleLabels,133.5,133);
gene(BOT,xBotRna,botGeneSpans,botGeneExons,botGeneArrows,7);
svg.append("rect").attr("x",140.3).attr("y",502).attr("width",501.7).attr("height",471).attr("fill","none").attr("stroke",INK).attr("stroke-width",1.5);
svg.append("line").attr("x1",141).attr("x2",642).attr("y1",928.3).attr("y2",928.3).attr("stroke","#777").attr("stroke-width",1.6);
svg.append("line").attr("x1",141).attr("x2",642).attr("y1",931).attr("y2",931).attr("stroke","#aaa").attr("stroke-width",1);
txt(236,963,botGeneNames[0],19); txt(468,963,botGeneNames[1],19.5);
tri(287,955); tri(335,955); tri(347.5,955);
vline(37.5,503,800); vline(36.7,807,925);
rot(34,640,"ChIP-seq",16.4); rot(34,877,"RNA-seq",16.4); rot(17.5,741,"Normalized tag counts",16.5);
</script></body></html>
